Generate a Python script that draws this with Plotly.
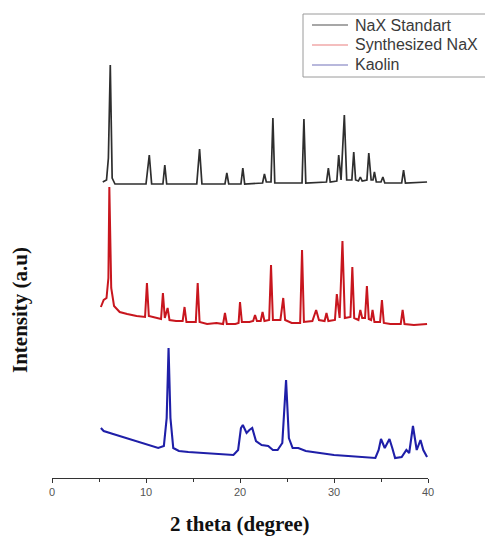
import plotly.graph_objects as go

# 2-theta positions (degree) and intensities (a.u.)
nax_std_x = [5.4, 5.8, 6.0, 6.2, 6.4, 6.7, 10.0, 10.35, 10.6, 11.8, 12.0, 12.2, 15.4, 15.7, 15.95,
             18.4, 18.6, 18.8, 20.1, 20.3, 20.5, 22.4, 22.6, 22.8, 23.3, 23.5, 23.7, 26.6, 26.8, 27.0,
             29.2, 29.4, 29.6, 30.3, 30.5, 30.75, 31.1, 31.35, 31.9, 32.1, 32.3, 32.6, 32.8, 33.0,
             33.5, 33.7, 33.95, 34.15, 34.3, 34.5, 35.0, 35.2, 35.4, 37.2, 37.4, 37.6, 39.9]
nax_std_y = [296, 298, 320, 413, 300, 294, 294, 323, 294, 294, 313, 294, 294, 329, 294,
             294, 305, 294, 294, 310, 294, 295, 304, 296, 296, 360, 295, 295, 359, 295,
             296, 310, 296, 297, 323, 298, 363, 298, 298, 326, 298, 297, 301, 297,
             298, 325, 298, 298, 306, 296, 296, 301, 295, 295, 308, 295, 296]

syn_nax_x = [5.2, 5.5, 5.8, 6.0, 6.1, 6.3, 6.6, 7.2, 8.0, 9.0, 9.9, 10.1, 10.3, 11.0, 11.6, 11.8,
             12.0, 12.3, 12.5, 13.2, 13.9, 14.1, 14.3, 15.3, 15.5, 15.7, 16.5, 17.5, 18.2, 18.4,
             18.6, 19.5, 19.85, 20.0, 20.2, 21.0, 21.4, 21.6, 21.8, 22.2, 22.4, 22.6, 23.1, 23.3,
             23.5, 24.3, 24.6, 24.8, 25.5, 26.4, 26.6, 26.8, 27.7, 28.1, 28.4, 29.0, 29.2, 29.4,
             30.1, 30.3, 30.6, 30.9, 31.15, 31.75, 31.95, 32.15, 32.6, 32.8, 33.0, 33.3, 33.5,
             33.7, 33.95, 34.1, 34.3, 34.9, 35.1, 35.3, 36.0, 37.1, 37.3, 37.5, 38.5, 39.9]
syn_nax_y = [171, 178, 180, 200, 291, 190, 172, 166, 164, 162, 161, 195, 162, 160, 159, 185,
             160, 170, 158, 157, 157, 171, 156, 156, 195, 156, 154, 155, 154, 165,
             154, 154, 155, 176, 156, 156, 157, 163, 157, 157, 166, 157, 158, 213,
             158, 158, 180, 158, 155, 155, 228, 156, 157, 168, 158, 157, 165, 157,
             158, 184, 160, 237, 160, 161, 211, 160, 158, 168, 160, 160, 192,
             159, 158, 168, 156, 156, 178, 155, 154, 154, 168, 154, 153, 154]

kaolin_x = [5.2, 5.5, 6.5, 7.5, 8.5, 9.5, 10.5, 11.3, 11.9, 12.2, 12.4, 12.6, 12.9, 13.5, 14.5,
            16.0, 17.5, 19.3, 19.8, 20.1, 20.3, 20.7, 21.0, 21.3, 21.7, 22.3, 23.0, 23.5, 24.0,
            24.5, 24.9, 25.2, 25.6, 26.2, 27.0, 28.5, 30.0, 31.5, 33.0, 34.4, 34.75, 35.0, 35.4,
            35.9, 36.2, 36.5, 37.2, 37.7, 38.0, 38.4, 38.8, 39.2, 39.5, 39.9]
kaolin_y = [50, 47, 44, 41, 38, 35, 32, 30, 32, 60, 130, 60, 30, 27, 26,
            25, 24, 23, 28, 50, 53, 45, 48, 50, 37, 33, 32, 28, 28,
            35, 98, 40, 30, 30, 27, 25, 23, 22, 21, 20, 28, 39, 30,
            39, 30, 20, 21, 28, 25, 52, 28, 38, 28, 21]

series_names = ["NaX Standart", "Synthesized NaX", "Kaolin"]
x_ticks = [0, 10, 20, 30, 40]

fig = go.Figure()
data = [(nax_std_x, nax_std_y, "#2e2e2e", 1.7, "#8a8a8a"),
        (syn_nax_x, syn_nax_y, "#c8161e", 2.0, "#f0a8a8"),
        (kaolin_x, kaolin_y, "#1f1fa8", 2.1, "#a0a0d0")]
for name, (xs, ys, col, w, lcol) in zip(series_names, data):
    fig.add_trace(go.Scatter(x=xs, y=ys, mode="lines", name=name,
                             line=dict(color=col, width=w),
                             showlegend=False, hoverinfo="skip"))

# Manual legend (drawn in paper coordinates so it does not push the margins)
def py2paper(py):
    return (478 - py) / 438.0

def px2paper(px):
    return (px - 52) / 376.0

shapes = [dict(type="rect", xref="paper", yref="paper",
               x0=px2paper(303), x1=px2paper(492), y0=py2paper(77), y1=py2paper(14),
               line=dict(color="#9a9a9a", width=1), fillcolor="white", layer="above")]
annotations = []
for i, (name, (xs, ys, col, w, lcol)) in enumerate(zip(series_names, data)):
    ry = 25 + 20 * i
    shapes.append(dict(type="line", xref="paper", yref="paper",
                       x0=px2paper(312), x1=px2paper(348), y0=py2paper(ry), y1=py2paper(ry),
                       line=dict(color=lcol, width=1.3), layer="above"))
    annotations.append(dict(text=name, xref="paper", yref="paper", x=px2paper(353),
                            y=py2paper(ry), xanchor="left", yanchor="middle", showarrow=False,
                            font=dict(family="Arial, Liberation Sans", size=16, color="#3a3a3a")))

annotations += [
    dict(text="<b>2 theta (degree)</b>", xref="paper", yref="paper", x=0.5, y=py2paper(524),
         xanchor="center", yanchor="middle", showarrow=False,
         font=dict(family="Liberation Serif, Times New Roman", size=21, color="#111")),
    dict(text="<b>Intensity (a.u)</b>", xref="paper", yref="paper", x=px2paper(20),
         y=py2paper(310), xanchor="center", yanchor="middle", showarrow=False, textangle=-90,
         font=dict(family="Liberation Serif, Times New Roman", size=21, color="#111")),
]

fig.update_layout(
    width=485, height=537,
    margin=dict(l=52, r=57, t=40, b=59, autoexpand=False),
    paper_bgcolor="white", plot_bgcolor="white",
    showlegend=False,
    xaxis=dict(range=[0, 40], tickvals=x_ticks, ticks="outside", ticklen=4, tickwidth=1,
               tickcolor="#333", showline=True, linecolor="#333", linewidth=1.2,
               showgrid=False, zeroline=False,
               tickfont=dict(family="Arial, Liberation Sans", size=11, color="#555"),
               minor=dict(tickvals=[5, 15, 25, 35], ticks="outside", ticklen=3,
                          tickcolor="#333", showgrid=False)),
    yaxis=dict(range=[0, 438], visible=False, showgrid=False, zeroline=False),
    shapes=shapes,
    annotations=annotations,
)
fig.write_html("out.html", config={"displayModeBar": False},
               post_script="document.body.style.margin='0';document.body.style.overflow='hidden';")
